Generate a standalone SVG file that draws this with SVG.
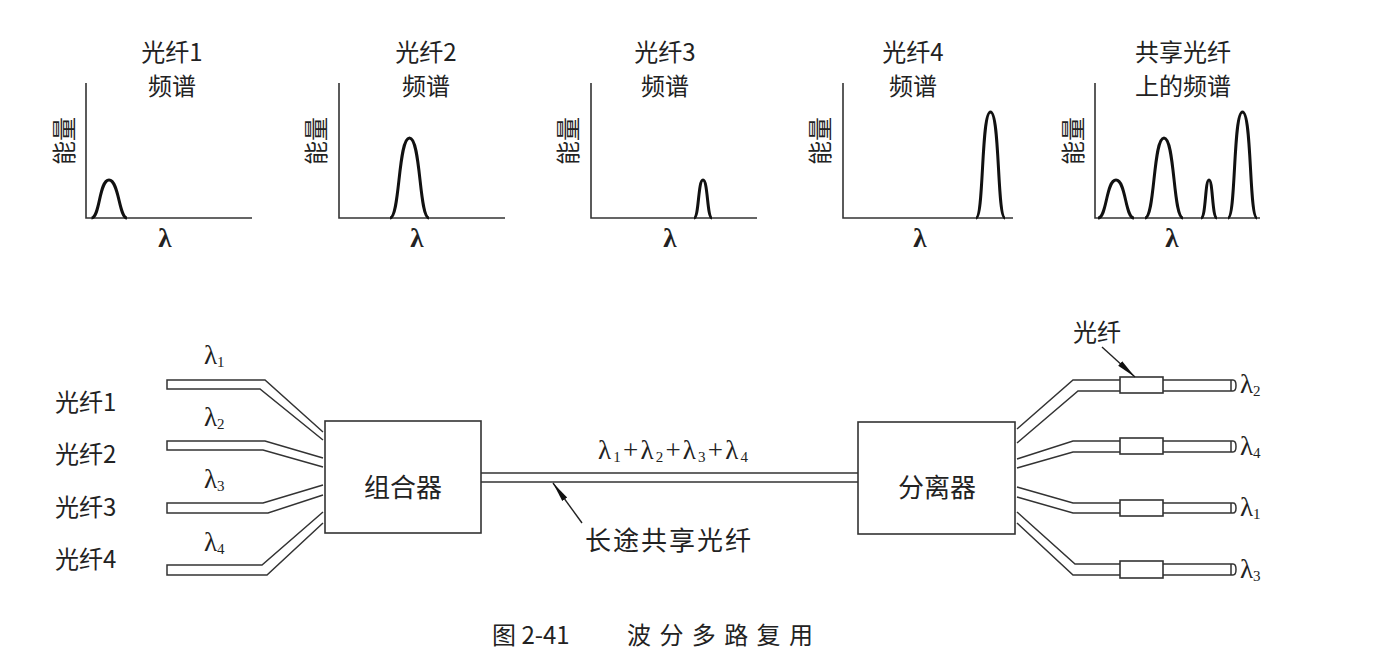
<svg xmlns="http://www.w3.org/2000/svg" width="1388" height="668" viewBox="0 0 1388 668">
<defs>
<style>
.t{font-family:"Liberation Serif","Noto Sans CJK SC",serif;fill:#222;}
.cjk{font-family:"Noto Sans CJK SC","Liberation Serif",sans-serif;fill:#222;}
.lam{font-family:"Liberation Serif",serif;fill:#222;}
.ax{fill:none;stroke:#333;stroke-width:1.6;}
.pk{fill:none;stroke:#111;stroke-width:3;stroke-linejoin:round;}
.fb{fill:none;stroke:#333;stroke-width:1.5;stroke-linejoin:miter;}
.box{fill:#fff;stroke:#333;stroke-width:1.6;}
.ar{stroke:#222;stroke-width:1.4;fill:none;}
</style>
<marker id="ah" viewBox="0 0 20 8" refX="20" refY="4" markerWidth="20" markerHeight="8" markerUnits="userSpaceOnUse" orient="auto">
<path d="M0,1 L20,4 L0,7 Z" fill="#111"/>
</marker>
</defs>
<rect width="1388" height="668" fill="#fff"/>

<g id="chart1">
<text class="cjk" x="172" y="50" font-size="24" text-anchor="middle" dominant-baseline="central">光纤1</text>
<text class="cjk" x="172" y="84" font-size="24" text-anchor="middle" dominant-baseline="central">频谱</text>
<text class="cjk" font-size="24" text-anchor="middle" dominant-baseline="central" transform="translate(62,141) rotate(-90)">能量</text>
<path class="ax" d="M86,83 V218 H252"/>
<path class="pk" d="M91.5,218 C100,218 99,180 109,180 C119,180 119,218 127,218"/>
<text class="lam" x="165" y="238" font-size="27" font-weight="bold" text-anchor="middle" dominant-baseline="central">λ</text>
</g>

<g id="chart2">
<text class="cjk" x="426" y="50" font-size="24" text-anchor="middle" dominant-baseline="central">光纤2</text>
<text class="cjk" x="426" y="84" font-size="24" text-anchor="middle" dominant-baseline="central">频谱</text>
<text class="cjk" font-size="24" text-anchor="middle" dominant-baseline="central" transform="translate(314,141) rotate(-90)">能量</text>
<path class="ax" d="M339,83 V218 H505"/>
<path class="pk" d="M390,218 C400,218 398,138 409.5,138 C421,138 419,218 429,218"/>
<text class="lam" x="417" y="238" font-size="27" font-weight="bold" text-anchor="middle" dominant-baseline="central">λ</text>
</g>

<g id="chart3">
<text class="cjk" x="665" y="50" font-size="24" text-anchor="middle" dominant-baseline="central">光纤3</text>
<text class="cjk" x="665" y="84" font-size="24" text-anchor="middle" dominant-baseline="central">频谱</text>
<text class="cjk" font-size="24" text-anchor="middle" dominant-baseline="central" transform="translate(566,141) rotate(-90)">能量</text>
<path class="ax" d="M591,83 V218 H757"/>
<path class="pk" d="M694,218 C699,218 698,180 703,180 C708,180 707,218 712,218"/>
<text class="lam" x="670" y="238" font-size="27" font-weight="bold" text-anchor="middle" dominant-baseline="central">λ</text>
</g>

<g id="chart4">
<text class="cjk" x="913" y="50" font-size="24" text-anchor="middle" dominant-baseline="central">光纤4</text>
<text class="cjk" x="913" y="84" font-size="24" text-anchor="middle" dominant-baseline="central">频谱</text>
<text class="cjk" font-size="24" text-anchor="middle" dominant-baseline="central" transform="translate(818,141) rotate(-90)">能量</text>
<path class="ax" d="M843,83 V218 H1013"/>
<path class="pk" d="M976,218 C984,218 981,112 990.5,112 C1000,112 997,218 1005,218"/>
<text class="lam" x="920" y="238" font-size="27" font-weight="bold" text-anchor="middle" dominant-baseline="central">λ</text>
</g>

<g id="chart5">
<text class="cjk" x="1183" y="50" font-size="24" text-anchor="middle" dominant-baseline="central">共享光纤</text>
<text class="cjk" x="1183" y="84" font-size="24" text-anchor="middle" dominant-baseline="central">上的频谱</text>
<text class="cjk" font-size="24" text-anchor="middle" dominant-baseline="central" transform="translate(1071,141) rotate(-90)">能量</text>
<path class="ax" d="M1095,83 V218 H1260"/>
<path class="pk" d="M1098,218 C1107,218 1106,180 1116,180 C1126,180 1125,218 1134,218"/>
<path class="pk" d="M1145,218 C1155,218 1153,138 1164,138 C1175,138 1173,218 1183,218"/>
<path class="pk" d="M1201,218 C1206,218 1205,180 1209,180 C1213,180 1212,218 1217,218"/>
<path class="pk" d="M1228,218 C1236,218 1233,112 1242.5,112 C1252,112 1249,218 1257,218"/>
<text class="lam" x="1172" y="238" font-size="27" font-weight="bold" text-anchor="middle" dominant-baseline="central">λ</text>
</g>

<g id="inputs">
<text class="cjk" x="55" y="400" font-size="24" dominant-baseline="central">光纤1</text>
<text class="cjk" x="55" y="452" font-size="24" dominant-baseline="central">光纤2</text>
<text class="cjk" x="55" y="505" font-size="24" dominant-baseline="central">光纤3</text>
<text class="cjk" x="55" y="557" font-size="24" dominant-baseline="central">光纤4</text>
<text class="lam" x="204" y="355" font-size="27" dominant-baseline="central">λ<tspan font-size="15" dy="7">1</tspan></text>
<text class="lam" x="204" y="417" font-size="27" dominant-baseline="central">λ<tspan font-size="15" dy="7">2</tspan></text>
<text class="lam" x="204" y="479" font-size="27" dominant-baseline="central">λ<tspan font-size="15" dy="7">3</tspan></text>
<text class="lam" x="204" y="542" font-size="27" dominant-baseline="central">λ<tspan font-size="15" dy="7">4</tspan></text>
</g>

<g id="connectors">
<path class="fb" d="M323,432 L265,380 H167 V389 H260 L323,440"/>
<path class="fb" d="M323,458 L265,441 H167 V450 H263 L323,467"/>
<path class="fb" d="M323,485 L263,503 H167 V513 H268 L323,495"/>
<path class="fb" d="M323,512 L262,565 H167 V575 H267 L323,523"/>
<path class="fb" d="M481,473 H858 M481,482 H858"/>
<path class="fb" d="M1017,429 L1073,380 H1231 M1017,443 L1078,391 H1231"/>
<path class="fb" d="M1017,459 L1073,441 H1231 M1017,468 L1073,452 H1231"/>
<path class="fb" d="M1017,487 L1073,503 H1231 M1017,497 L1073,513 H1231"/>
<path class="fb" d="M1017,512 L1075,564 H1231 M1017,523 L1073,575 H1231"/>
<path class="fb" d="M1231,380 V391 M1231,380 H1233 Q1236,380 1236,385.5 Q1236,391 1233,391 H1231"/>
<path class="fb" d="M1231,441 V452 M1231,441 H1233 Q1236,441 1236,446.5 Q1236,452 1233,452 H1231"/>
<path class="fb" d="M1231,503 V513 M1231,503 H1233 Q1236,503 1236,508 Q1236,513 1233,513 H1231"/>
<path class="fb" d="M1231,564 V575 M1231,564 H1233 Q1236,564 1236,569.5 Q1236,575 1233,575 H1231"/>
<rect class="box" x="1120" y="377" width="43" height="16"/>
<rect class="box" x="1120" y="438" width="43" height="16"/>
<rect class="box" x="1120" y="500" width="43" height="16"/>
<rect class="box" x="1120" y="561" width="43" height="17"/>
<line class="ar" x1="582" y1="523" x2="553" y2="483" marker-end="url(#ah)"/>
<line class="ar" x1="1102" y1="347" x2="1135" y2="377" marker-end="url(#ah)"/>
</g>

<g id="combiner">
<rect class="box" x="325" y="421" width="156" height="112"/>
<text class="cjk" x="403" y="485" font-size="26" text-anchor="middle" dominant-baseline="central">组合器</text>
</g>

<g id="separator">
<rect class="box" x="858" y="422" width="157" height="112"/>
<text class="cjk" x="937" y="485" font-size="26" text-anchor="middle" dominant-baseline="central">分离器</text>
</g>

<g id="labels">
<text class="lam" x="598" y="450" font-size="27" dominant-baseline="central" textLength="150">λ<tspan font-size="15" dy="7">1</tspan><tspan dy="-7">+λ</tspan><tspan font-size="15" dy="7">2</tspan><tspan dy="-7">+λ</tspan><tspan font-size="15" dy="7">3</tspan><tspan dy="-7">+λ</tspan><tspan font-size="15" dy="7">4</tspan></text>
<text class="cjk" x="585" y="538" font-size="26" dominant-baseline="central" textLength="166">长途共享光纤</text>
<text class="cjk" x="1097" y="330" font-size="24" text-anchor="middle" dominant-baseline="central">光纤</text>
<text class="lam" x="1240" y="384" font-size="27" dominant-baseline="central">λ<tspan font-size="15" dy="7">2</tspan></text>
<text class="lam" x="1240" y="446" font-size="27" dominant-baseline="central">λ<tspan font-size="15" dy="7">4</tspan></text>
<text class="lam" x="1240" y="507" font-size="27" dominant-baseline="central">λ<tspan font-size="15" dy="7">1</tspan></text>
<text class="lam" x="1240" y="569" font-size="27" dominant-baseline="central">λ<tspan font-size="15" dy="7">3</tspan></text>
</g>

<g id="caption">
<text class="cjk" x="492" y="633" font-size="24" dominant-baseline="central">图 2-41</text>
<text class="cjk" x="627" y="633" font-size="24" dominant-baseline="central" textLength="186">波分多路复用</text>
</g>
</svg>
